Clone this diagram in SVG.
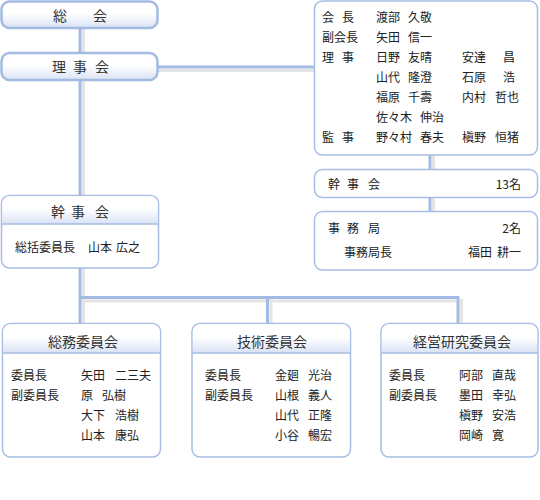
<svg xmlns="http://www.w3.org/2000/svg" width="540" height="500" viewBox="0 0 540 500">
<defs>
<linearGradient id="hg" x1="0" y1="0" x2="0" y2="1">
<stop offset="0" stop-color="#ffffff"/>
<stop offset="0.45" stop-color="#ffffff"/>
<stop offset="1" stop-color="#d9e2f4"/>
</linearGradient>
<style>
.s{fill:none;stroke:#e4e4e4;stroke-width:3}
.c{fill:none;stroke:#a3bbe3;stroke-width:3}
.b{fill:#fff;stroke:#a7bde3;stroke-width:1.5}
.bt{fill:url(#hg);stroke:#a3bbe3;stroke-width:2.5}
.hd{fill:url(#hg)}
.sep{stroke:#a7bde3;stroke-width:1.5}
text{font-family:"Noto Sans CJK JP","Noto Sans CJK SC",sans-serif;fill:#222;font-size:12px}
.t{font-size:14px;fill:#333}
</style>
</defs>
<g id="connectors">
<path class="s" d="M83.5 28V53M83.5 80V195M158 70.5H314M433.5 155V169M433.5 198V211M83.5 268V296M83.5 299V323M80 301H456M271 299V323M461.5 299V323"/>
<path class="c" d="M80 28V53M80 80V195M158 67H314M430 155V169M430 198V211M80 268V323M80 297.5H458V323M267.5 297.5V323"/>
</g>
<g id="soukai">
<rect class="bt" x="1.5" y="1.5" width="156" height="26.5" rx="8"/>
<text class="t" x="53" y="21">総</text><text class="t" x="93" y="21">会</text>
</g>
<g id="rijikai">
<rect class="bt" x="1.5" y="53" width="156" height="27" rx="8"/>
<text class="t" x="52" y="72">理</text><text class="t" x="73" y="72">事</text><text class="t" x="95" y="72">会</text>
</g>
<g id="officers">
<rect class="b" x="314.5" y="1" width="223" height="154" rx="8"/>
<text x="322" y="22">会</text><text x="342" y="22">長</text>
<text x="376" y="22">渡部</text><text x="408" y="22">久敬</text>
<text x="322" y="42">副会長</text>
<text x="376" y="42">矢田</text><text x="408" y="42">信一</text>
<text x="322" y="62">理</text><text x="342" y="62">事</text>
<text x="376" y="62">日野</text><text x="408" y="62">友晴</text>
<text x="462" y="62">安達</text><text x="503" y="62">昌</text>
<text x="376" y="82">山代</text><text x="408" y="82">隆澄</text>
<text x="462" y="82">石原</text><text x="503" y="82">浩</text>
<text x="376" y="102">福原</text><text x="408" y="102">千壽</text>
<text x="462" y="102">内村</text><text x="495" y="102">哲也</text>
<text x="376" y="122">佐々木</text><text x="420" y="122">伸治</text>
<text x="322" y="142">監</text><text x="342" y="142">事</text>
<text x="376" y="142">野々村</text><text x="420" y="142">春夫</text>
<text x="462" y="142">槇野</text><text x="495" y="142">恒猪</text>
</g>
<g id="kanjikai-count">
<rect class="b" x="314.5" y="169.5" width="223" height="28" rx="8"/>
<text x="328" y="188.5">幹</text><text x="347" y="188.5">事</text><text x="368" y="188.5">会</text>
<text x="521" y="188.5" text-anchor="end">13名</text>
</g>
<g id="jimukyoku">
<rect class="b" x="314.5" y="211.5" width="223" height="58.5" rx="8"/>
<text x="328" y="232.5">事</text><text x="347" y="232.5">務</text><text x="368" y="232.5">局</text>
<text x="521" y="232.5" text-anchor="end">2名</text>
<text x="344" y="257">事務局長</text>
<text x="468" y="257">福田</text><text x="497" y="257">耕一</text>
</g>
<g id="kanjikai">
<rect class="b" x="1.5" y="195.5" width="157" height="72.5" rx="8"/>
<path class="hd" d="M2.3 224V203.5A7.2 7.2 0 0 1 9.5 196.3H150.5A7.2 7.2 0 0 1 157.7 203.5V224Z"/>
<line class="sep" x1="1.5" y1="224" x2="158.5" y2="224"/>
<text class="t" x="58" y="217" text-anchor="middle">幹</text><text class="t" x="78" y="217" text-anchor="middle">事</text><text class="t" x="102" y="217" text-anchor="middle">会</text>
<text x="15" y="252">総括委員長</text>
<text x="88" y="252">山本</text><text x="116" y="252">広之</text>
</g>
<g id="soumu">
<rect class="b" x="2.5" y="323.5" width="158" height="133.5" rx="8"/>
<path class="hd" d="M3.3 353V331.5A7.2 7.2 0 0 1 10.5 324.3H152.5A7.2 7.2 0 0 1 159.7 331.5V353Z"/>
<line class="sep" x1="2.5" y1="353" x2="160.5" y2="353"/>
<text class="t" x="83" y="346.5" text-anchor="middle">総務委員会</text>
<text x="11" y="380">委員長</text><text x="81" y="380">矢田</text><text x="115" y="380">二三夫</text>
<text x="11" y="400">副委員長</text><text x="81" y="400">原</text><text x="102" y="400">弘樹</text>
<text x="81" y="420">大下</text><text x="115" y="420">浩樹</text>
<text x="81" y="440">山本</text><text x="115" y="440">康弘</text>
</g>
<g id="gijutsu">
<rect class="b" x="192" y="323.5" width="158.5" height="133.5" rx="8"/>
<path class="hd" d="M192.8 353V331.5A7.2 7.2 0 0 1 200 324.3H342.5A7.2 7.2 0 0 1 349.7 331.5V353Z"/>
<line class="sep" x1="192" y1="353" x2="350.5" y2="353"/>
<text class="t" x="272" y="346.5" text-anchor="middle">技術委員会</text>
<text x="205" y="380">委員長</text><text x="275" y="380">金廻</text><text x="308" y="380">光治</text>
<text x="205" y="400">副委員長</text><text x="275" y="400">山根</text><text x="308" y="400">義人</text>
<text x="275" y="420">山代</text><text x="308" y="420">正隆</text>
<text x="275" y="440">小谷</text><text x="308" y="440">暢宏</text>
</g>
<g id="keiei">
<rect class="b" x="381" y="323.5" width="157" height="133.5" rx="8"/>
<path class="hd" d="M381.8 353V331.5A7.2 7.2 0 0 1 389 324.3H530A7.2 7.2 0 0 1 537.2 331.5V353Z"/>
<line class="sep" x1="381" y1="353" x2="538" y2="353"/>
<text class="t" x="462" y="346.5" text-anchor="middle">経営研究委員会</text>
<text x="389" y="380">委員長</text><text x="459" y="380">阿部</text><text x="492" y="380">直哉</text>
<text x="389" y="400">副委員長</text><text x="459" y="400">墨田</text><text x="492" y="400">幸弘</text>
<text x="459" y="420">槇野</text><text x="492" y="420">安浩</text>
<text x="459" y="440">岡崎</text><text x="492" y="440">寛</text>
</g>
</svg>
